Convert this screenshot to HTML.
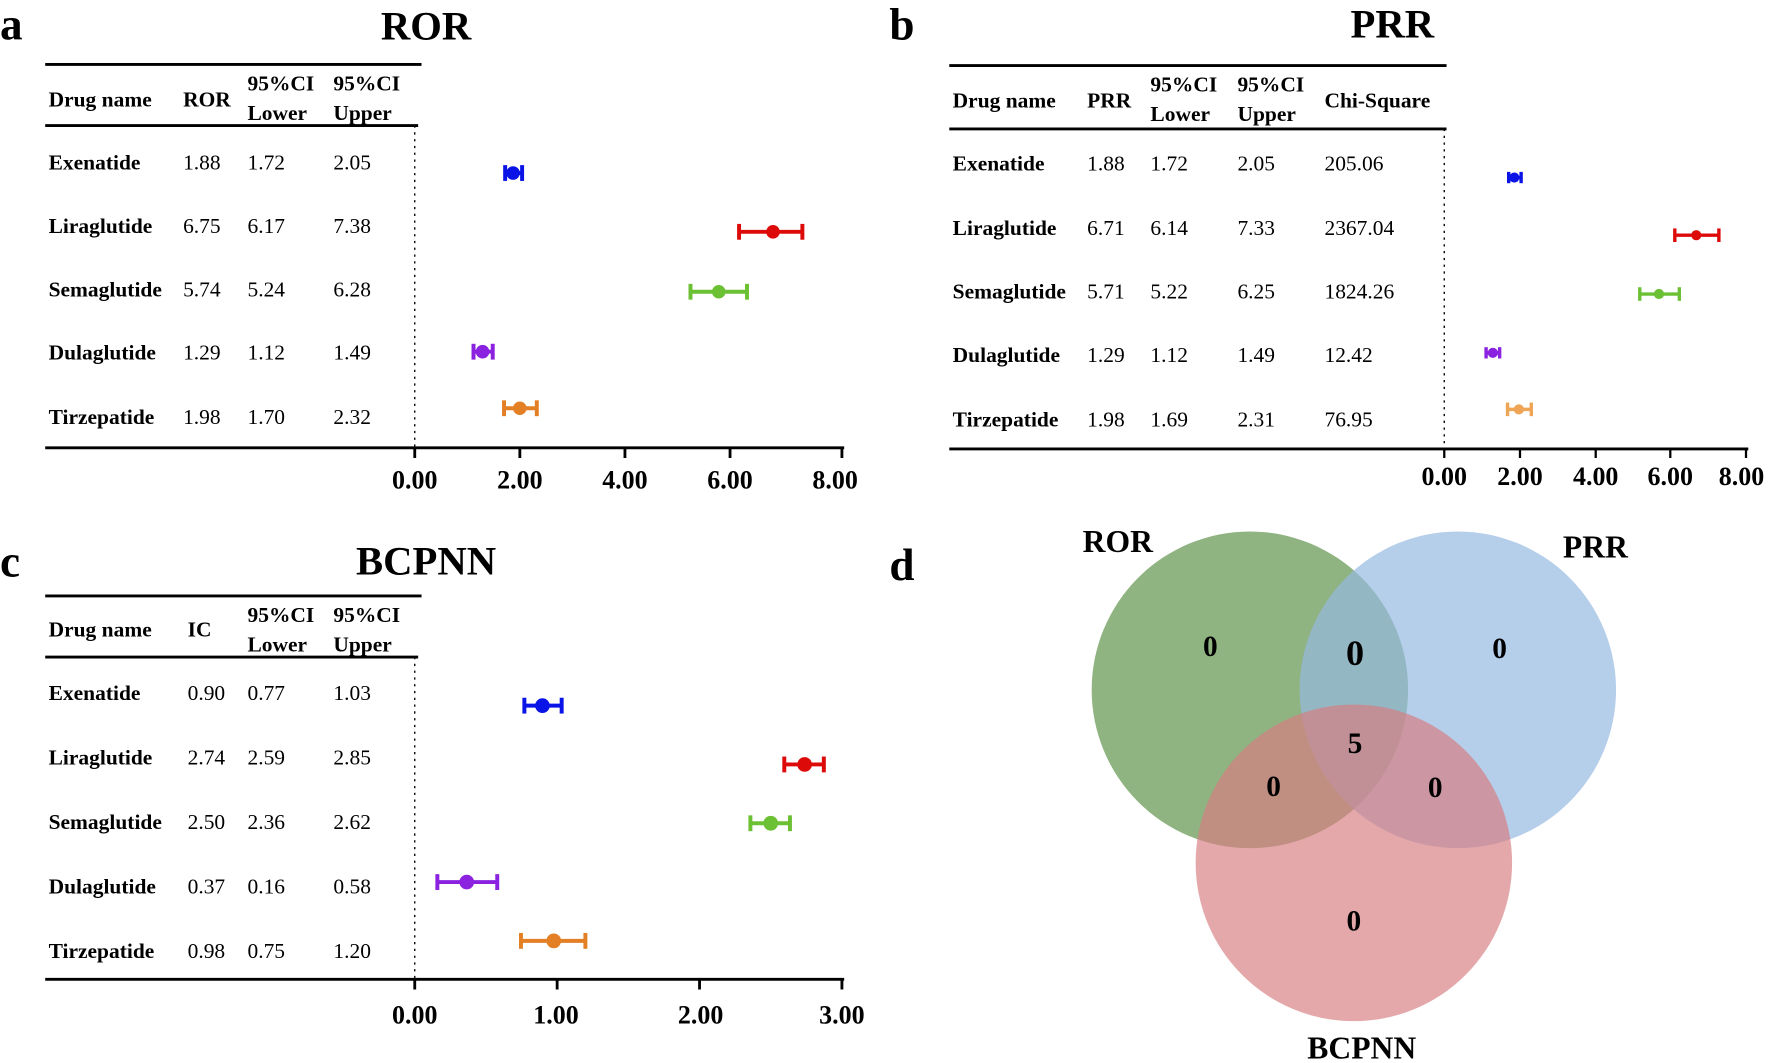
<!DOCTYPE html>
<html><head><meta charset="utf-8"><style>
html,body{margin:0;padding:0;background:#fff;}
svg{display:block;font-family:"Liberation Serif","Times New Roman",Times,"DejaVu Serif",serif;}
text{font-family:"Liberation Serif","Times New Roman",Times,"DejaVu Serif",serif;fill:#000;}
.b{font-weight:bold;}
.h{font-weight:bold;font-size:19px;}
.r{font-size:19px;}
.t{font-weight:bold;font-size:23px;}
</style></head><body>
<svg width="1772" height="1063" viewBox="0 0 1568 940" preserveAspectRatio="none" xmlns="http://www.w3.org/2000/svg" font-family="Liberation Serif, Times New Roman, serif">
<!-- Panel a -->
<text x="0" y="35" class="b" font-size="40">a</text>
<text x="377" y="35" class="b" font-size="36" text-anchor="middle">ROR</text>
<line x1="40" y1="57" x2="373" y2="57" stroke="#000" stroke-width="2.5"/>
<text x="43" y="94" class="h">Drug name</text>
<text x="162" y="94" class="h">ROR</text>
<text x="219" y="80" class="h">95%CI</text><text x="219" y="106" class="h">Lower</text>
<text x="295" y="80" class="h">95%CI</text><text x="295" y="106" class="h">Upper</text>
<line x1="40" y1="111" x2="370" y2="111" stroke="#000" stroke-width="2.5"/>
<line x1="367" y1="111" x2="367" y2="396" stroke="#000" stroke-width="1.2" stroke-dasharray="2,4"/>
<g class="r">
<text x="43" y="150" class="h">Exenatide</text><text x="162" y="150">1.88</text><text x="219" y="150">1.72</text><text x="295" y="150">2.05</text>
<text x="43" y="206" class="h">Liraglutide</text><text x="162" y="206">6.75</text><text x="219" y="206">6.17</text><text x="295" y="206">7.38</text>
<text x="43" y="262" class="h">Semaglutide</text><text x="162" y="262">5.74</text><text x="219" y="262">5.24</text><text x="295" y="262">6.28</text>
<text x="43" y="318" class="h">Dulaglutide</text><text x="162" y="318">1.29</text><text x="219" y="318">1.12</text><text x="295" y="318">1.49</text>
<text x="43" y="375" class="h">Tirzepatide</text><text x="162" y="375">1.98</text><text x="219" y="375">1.70</text><text x="295" y="375">2.32</text>
</g>
<line x1="40" y1="396" x2="747" y2="396" stroke="#000" stroke-width="2.5"/>
<g stroke="#000" stroke-width="2.5"><line x1="367" y1="396" x2="367" y2="405"/><line x1="460" y1="396" x2="460" y2="405"/><line x1="553" y1="396" x2="553" y2="405"/><line x1="646" y1="396" x2="646" y2="405"/><line x1="745" y1="396" x2="745" y2="405"/></g>
<g class="t" text-anchor="middle"><text x="367" y="432">0.00</text><text x="460" y="432">2.00</text><text x="553" y="432">4.00</text><text x="646" y="432">6.00</text><text x="739" y="432">8.00</text></g>
<g stroke-width="3.5" fill="none">
<g stroke="#0a14e6"><line x1="447" y1="153" x2="462" y2="153"/><line x1="447" y1="146" x2="447" y2="160"/><line x1="462" y1="146" x2="462" y2="160"/></g>
<g stroke="#dd0a0a"><line x1="654" y1="205" x2="710" y2="205"/><line x1="654" y1="198" x2="654" y2="212"/><line x1="710" y1="198" x2="710" y2="212"/></g>
<g stroke="#6cc034"><line x1="611" y1="258" x2="661" y2="258"/><line x1="611" y1="251" x2="611" y2="265"/><line x1="661" y1="251" x2="661" y2="265"/></g>
<g stroke="#8a22e0"><line x1="419" y1="311" x2="436" y2="311"/><line x1="419" y1="304" x2="419" y2="318"/><line x1="436" y1="304" x2="436" y2="318"/></g>
<g stroke="#e37f25"><line x1="446" y1="361" x2="475" y2="361"/><line x1="446" y1="354" x2="446" y2="368"/><line x1="475" y1="354" x2="475" y2="368"/></g>
</g>
<circle cx="454" cy="153" r="6" fill="#0a14e6"/><circle cx="684" cy="205" r="6" fill="#dd0a0a"/><circle cx="636" cy="258" r="6" fill="#6cc034"/><circle cx="427" cy="311" r="6" fill="#8a22e0"/><circle cx="460" cy="361" r="6" fill="#e37f25"/>

<!-- Panel b -->
<text x="787" y="35" class="b" font-size="40">b</text>
<text x="1232" y="33" class="b" font-size="36" text-anchor="middle">PRR</text>
<line x1="840" y1="58" x2="1280" y2="58" stroke="#000" stroke-width="2.5"/>
<text x="843" y="95" class="h">Drug name</text>
<text x="962" y="95" class="h">PRR</text>
<text x="1018" y="81" class="h">95%CI</text><text x="1018" y="107" class="h">Lower</text>
<text x="1095" y="81" class="h">95%CI</text><text x="1095" y="107" class="h">Upper</text>
<text x="1172" y="95" class="h">Chi-Square</text>
<line x1="840" y1="114" x2="1280" y2="114" stroke="#000" stroke-width="2.5"/>
<line x1="1278" y1="114" x2="1278" y2="397" stroke="#000" stroke-width="1.2" stroke-dasharray="2,4"/>
<g class="r">
<text x="843" y="151" class="h">Exenatide</text><text x="962" y="151">1.88</text><text x="1018" y="151">1.72</text><text x="1095" y="151">2.05</text><text x="1172" y="151">205.06</text>
<text x="843" y="208" class="h">Liraglutide</text><text x="962" y="208">6.71</text><text x="1018" y="208">6.14</text><text x="1095" y="208">7.33</text><text x="1172" y="208">2367.04</text>
<text x="843" y="264" class="h">Semaglutide</text><text x="962" y="264">5.71</text><text x="1018" y="264">5.22</text><text x="1095" y="264">6.25</text><text x="1172" y="264">1824.26</text>
<text x="843" y="320" class="h">Dulaglutide</text><text x="962" y="320">1.29</text><text x="1018" y="320">1.12</text><text x="1095" y="320">1.49</text><text x="1172" y="320">12.42</text>
<text x="843" y="377" class="h">Tirzepatide</text><text x="962" y="377">1.98</text><text x="1018" y="377">1.69</text><text x="1095" y="377">2.31</text><text x="1172" y="377">76.95</text>
</g>
<line x1="840" y1="397" x2="1547" y2="397" stroke="#000" stroke-width="2.5"/>
<g stroke="#000" stroke-width="2"><line x1="1278" y1="397" x2="1278" y2="405"/><line x1="1345" y1="397" x2="1345" y2="405"/><line x1="1412" y1="397" x2="1412" y2="405"/><line x1="1478" y1="397" x2="1478" y2="405"/><line x1="1545" y1="397" x2="1545" y2="405"/></g>
<g class="t" text-anchor="middle"><text x="1278" y="429">0.00</text><text x="1345" y="429">2.00</text><text x="1412" y="429">4.00</text><text x="1478" y="429">6.00</text><text x="1541" y="429">8.00</text></g>
<g stroke-width="3" fill="none">
<g stroke="#0a14e6"><line x1="1335" y1="157" x2="1346" y2="157"/><line x1="1335" y1="152" x2="1335" y2="162"/><line x1="1346" y1="152" x2="1346" y2="162"/></g>
<g stroke="#dd0a0a"><line x1="1482" y1="208" x2="1521" y2="208"/><line x1="1482" y1="202" x2="1482" y2="214"/><line x1="1521" y1="202" x2="1521" y2="214"/></g>
<g stroke="#6cc034"><line x1="1451" y1="260" x2="1486" y2="260"/><line x1="1451" y1="254" x2="1451" y2="266"/><line x1="1486" y1="254" x2="1486" y2="266"/></g>
<g stroke="#8a22e0"><line x1="1315" y1="312" x2="1327" y2="312"/><line x1="1315" y1="307" x2="1315" y2="317"/><line x1="1327" y1="307" x2="1327" y2="317"/></g>
<g stroke="#eea555"><line x1="1334" y1="362" x2="1355" y2="362"/><line x1="1334" y1="356" x2="1334" y2="368"/><line x1="1355" y1="356" x2="1355" y2="368"/></g>
</g>
<circle cx="1340" cy="157" r="4.5" fill="#0a14e6"/><circle cx="1501" cy="208" r="4.5" fill="#dd0a0a"/><circle cx="1468" cy="260" r="4.5" fill="#6cc034"/><circle cx="1321" cy="312" r="4.5" fill="#8a22e0"/><circle cx="1344" cy="362" r="4.5" fill="#eea555"/>

<!-- Panel c -->
<text x="0" y="510" class="b" font-size="40">c</text>
<text x="377" y="508" class="b" font-size="36" text-anchor="middle">BCPNN</text>
<line x1="40" y1="527" x2="373" y2="527" stroke="#000" stroke-width="2.5"/>
<text x="43" y="563" class="h">Drug name</text>
<text x="166" y="563" class="h">IC</text>
<text x="219" y="550" class="h">95%CI</text><text x="219" y="576" class="h">Lower</text>
<text x="295" y="550" class="h">95%CI</text><text x="295" y="576" class="h">Upper</text>
<line x1="40" y1="581" x2="370" y2="581" stroke="#000" stroke-width="2.5"/>
<line x1="367" y1="581" x2="367" y2="866" stroke="#000" stroke-width="1.2" stroke-dasharray="2,4"/>
<g class="r">
<text x="43" y="619" class="h">Exenatide</text><text x="166" y="619">0.90</text><text x="219" y="619">0.77</text><text x="295" y="619">1.03</text>
<text x="43" y="676" class="h">Liraglutide</text><text x="166" y="676">2.74</text><text x="219" y="676">2.59</text><text x="295" y="676">2.85</text>
<text x="43" y="733" class="h">Semaglutide</text><text x="166" y="733">2.50</text><text x="219" y="733">2.36</text><text x="295" y="733">2.62</text>
<text x="43" y="790" class="h">Dulaglutide</text><text x="166" y="790">0.37</text><text x="219" y="790">0.16</text><text x="295" y="790">0.58</text>
<text x="43" y="847" class="h">Tirzepatide</text><text x="166" y="847">0.98</text><text x="219" y="847">0.75</text><text x="295" y="847">1.20</text>
</g>
<line x1="40" y1="866" x2="747" y2="866" stroke="#000" stroke-width="2.5"/>
<g stroke="#000" stroke-width="2.5"><line x1="367" y1="866" x2="367" y2="875"/><line x1="493" y1="866" x2="493" y2="875"/><line x1="619" y1="866" x2="619" y2="875"/><line x1="745" y1="866" x2="745" y2="875"/></g>
<g class="t" text-anchor="middle"><text x="367" y="905">0.00</text><text x="492" y="905">1.00</text><text x="620" y="905">2.00</text><text x="745" y="905">3.00</text></g>
<g stroke-width="3.5" fill="none">
<g stroke="#0a14e6"><line x1="464" y1="624" x2="497" y2="624"/><line x1="464" y1="617" x2="464" y2="631"/><line x1="497" y1="617" x2="497" y2="631"/></g>
<g stroke="#dd0a0a"><line x1="694" y1="676" x2="729" y2="676"/><line x1="694" y1="669" x2="694" y2="683"/><line x1="729" y1="669" x2="729" y2="683"/></g>
<g stroke="#6cc034"><line x1="664" y1="728" x2="699" y2="728"/><line x1="664" y1="721" x2="664" y2="735"/><line x1="699" y1="721" x2="699" y2="735"/></g>
<g stroke="#8a22e0"><line x1="387" y1="780" x2="440" y2="780"/><line x1="387" y1="773" x2="387" y2="787"/><line x1="440" y1="773" x2="440" y2="787"/></g>
<g stroke="#e37f25"><line x1="461" y1="832" x2="518" y2="832"/><line x1="461" y1="825" x2="461" y2="839"/><line x1="518" y1="825" x2="518" y2="839"/></g>
</g>
<circle cx="480" cy="624" r="6.5" fill="#0a14e6"/><circle cx="712" cy="676" r="6.5" fill="#dd0a0a"/><circle cx="682" cy="728" r="6.5" fill="#6cc034"/><circle cx="413" cy="780" r="6.5" fill="#8a22e0"/><circle cx="490" cy="832" r="6.5" fill="#e37f25"/>

<!-- Panel d -->
<text x="787" y="513" class="b" font-size="40">d</text>
<ellipse cx="1106" cy="610" rx="140" ry="140" fill="rgb(100,150,80)" fill-opacity="0.72"/>
<ellipse cx="1290" cy="610" rx="140" ry="140" fill="rgb(150,185,225)" fill-opacity="0.7"/>
<ellipse cx="1198" cy="763" rx="140" ry="140" fill="rgb(215,125,130)" fill-opacity="0.68"/>
<g class="b" font-size="28">
<text x="958" y="488">ROR</text>
<text x="1383" y="493">PRR</text>
<text x="1205" y="936" text-anchor="middle">BCPNN</text>
</g>
<g class="b" font-size="26" text-anchor="middle">
<text x="1071" y="580">0</text>
<text x="1199" y="588" font-size="32">0</text>
<text x="1327" y="582">0</text>
<text x="1199" y="666">5</text>
<text x="1127" y="704">0</text>
<text x="1270" y="705">0</text>
<text x="1198" y="823">0</text>
</g>
</svg>
</body></html>
